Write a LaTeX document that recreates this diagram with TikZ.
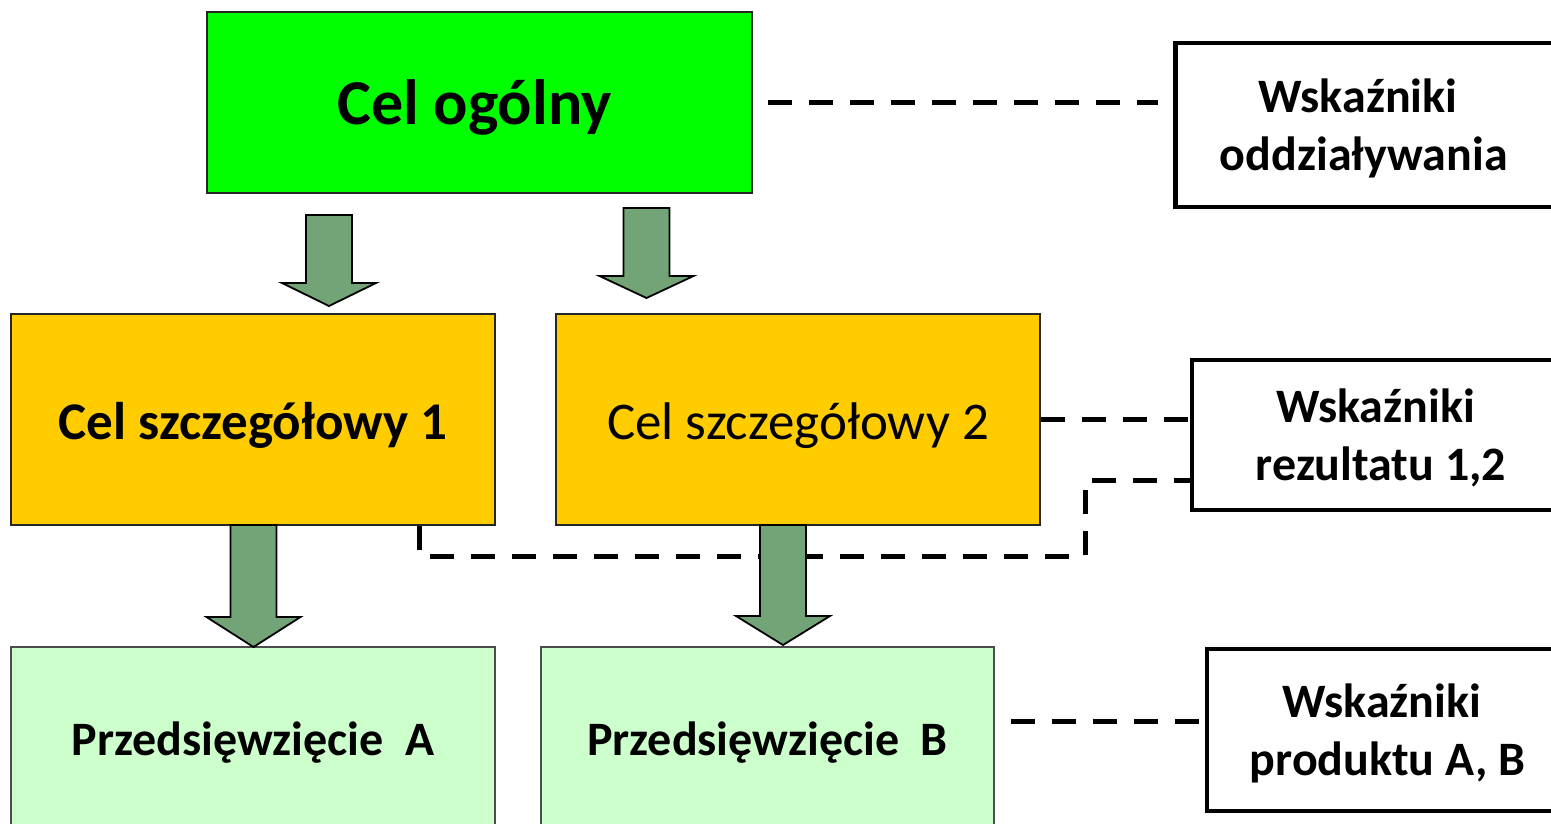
\documentclass[tikz,border=0pt]{standalone}
\usepackage{fontspec}
\setmainfont{Carlito}
\definecolor{celgreen}{HTML}{00FF00}
\definecolor{celyellow}{HTML}{FFCC00}
\definecolor{lightgreen}{HTML}{CCFFCC}
\definecolor{arrowgreen}{HTML}{73A478}
\tikzset{
  goalbox/.style={draw=black!85, line width=1.5pt, inner sep=0pt, align=center, anchor=center, text depth=0pt},
  indbox/.style={draw=black, line width=4.5pt, inner sep=0pt, anchor=center},
  indtext/.style={inner sep=0pt, align=center, anchor=center,
    font=\fontsize{48}{58}\selectfont\bfseries},
  dashline/.style={draw=black, line width=5pt, dash pattern=on 24pt off 17pt},
  blockarrow/.style={draw=black, line width=1.8pt, fill=arrowgreen, line join=miter},
}
\newcommand\garrow[4]{\draw[blockarrow] (#1-23,#2) -- (#1+23,#2) -- (#1+23,#3) -- (#1+47,#3) -- (#1,#4) -- (#1-47,#3) -- (#1-23,#3) -- cycle;}
\begin{document}
\begin{tikzpicture}[x=1pt,y=-1pt]
\useasboundingbox (0,0) rectangle (1551,823);
\begin{scope}
\clip (0,0) rectangle (1551,823);
% goal boxes
\node[goalbox, fill=celgreen, minimum width=545pt, minimum height=181pt, text height=43pt,
  font=\fontsize{64}{77}\selectfont\bfseries] (cel) at (479.5,102.5) {Cel ogólny\hspace*{10pt}};
\node[goalbox, fill=celyellow, minimum width=484pt, minimum height=211pt, text height=40pt,
  font=\fontsize{53}{64}\selectfont\bfseries] (cs1) at (253,419.5) {Cel szczegółowy 1};
\node[goalbox, fill=celyellow, minimum width=484pt, minimum height=211pt, text height=40pt,
  font=\fontsize{53}{64}\selectfont] (cs2) at (798,419.5) {Cel szczegółowy 2};
\node[goalbox, draw=black!70, fill=lightgreen, minimum width=484pt, minimum height=188pt, text height=29pt,
  font=\fontsize{48}{58}\selectfont\bfseries] (pa) at (253,741) {Przedsięwzięcie\ \ A};
\node[goalbox, draw=black!70, fill=lightgreen, minimum width=453pt, minimum height=188pt, text height=29pt,
  font=\fontsize{48}{58}\selectfont\bfseries] (pb) at (767.5,741) {Przedsięwzięcie\ \ B};
% indicator boxes
\node[indbox, minimum width=380.5pt, minimum height=164pt] (wo) at (1365.75,125) {};
\node[indtext] (wot) at ([xshift=-2pt,yshift=-3pt]wo.center) {Wskaźniki\hspace*{11pt}\\oddziaływania};
\node[indbox, minimum width=378pt, minimum height=150pt] (wr) at (1381,435) {};
\node[indtext] (wrt) at ([yshift=-3pt]wr.center) {Wskaźniki\hspace*{11pt}\\rezultatu 1,2};
\node[indbox, minimum width=361pt, minimum height=162pt] (wp) at (1387.5,730) {};
\node[indtext] (wpt) at ([yshift=-3pt]wp.center) {Wskaźniki\hspace*{11pt}\\produktu A, B};
% dashed connectors
\draw[dashline, shorten <=15pt, shorten >=15pt] (cel.east) -- (cel.east -| wo.west);
\draw[dashline] (cs2.east) -- (cs2.east -| wr.west);
\coordinate (k1) at (1085,556);
\draw[dashline] ([xshift=166pt]cs1.south) |- (k1) |- ([yshift=-45pt]wr.west);
\coordinate (pl) at ([yshift=20pt]pb.east);
\draw[dashline, shorten <=16pt] (pl) -- (pl -| wp.west);
% block arrows
\garrow{329}{215}{283}{306}
\garrow{646.5}{208}{276}{298}
\garrow{253.5}{525}{617}{647}
\garrow{783}{525}{616}{645}
\end{scope}
\end{tikzpicture}
\end{document}
